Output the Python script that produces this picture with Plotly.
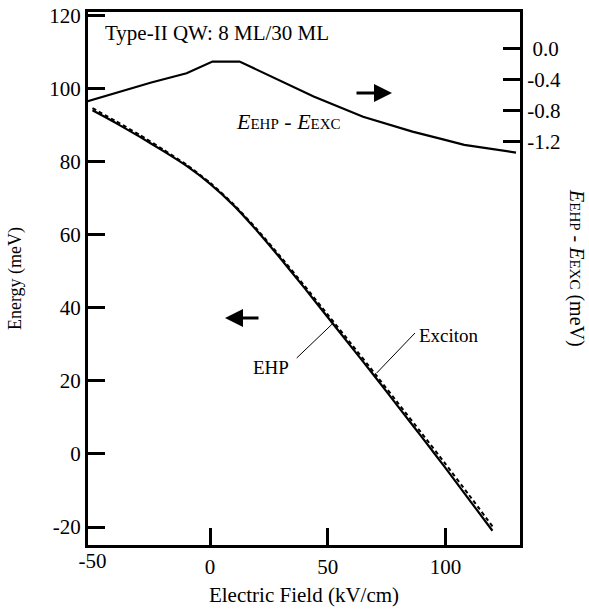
import plotly.graph_objects as go

# ---- data ----
field_diff = [-52, -25, -10, 1, 12.5, 38, 44, 65, 86, 99, 108, 130]
diff_mev = [-0.68, -0.44, -0.32, -0.17, -0.17, -0.53, -0.62, -0.88, -1.07, -1.17, -1.24, -1.34]

field = [-50, -40, -30, -20, -10, 0, 10, 20, 30, 40, 50, 60, 70, 80, 90, 100, 110, 120]
ehp = [94.0, 90.5, 86.8, 82.9, 78.8, 73.9, 68.0, 61.0, 53.4, 45.5, 37.4, 29.3, 21.2, 12.9, 4.6, -3.8, -12.4, -21.0]
exciton = [94.6, 91.0, 87.3, 83.3, 79.1, 74.2, 68.3, 61.4, 53.9, 46.1, 38.1, 30.1, 22.0, 13.8, 5.6, -2.7, -11.2, -19.8]

x_ticks = [0, 50, 100]
x_ticktext = ["0", "50", "100"]
x_edge_tick = [-50]
x_edge_ticktext = ["-50"]
y_ticks = [-20, 0, 20, 40, 60, 80, 100, 120]
y_ticktext = ["-20", "0", "20", "40", "60", "80", "100", "120"]
y2_ticks = [0.0, -0.4, -0.8, -1.2]
y2_ticktext = ["\u00a00.0", "-0.4", "-0.8", "-1.2"]

FONT = "Liberation Serif, Times New Roman, serif"
L, R, T, B = 88, 520, 12, 545
W, H = 589, 610
XR = [-51.9, 131.7]


def px(x):
    return (x - L) / (R - L)


def py(y):
    return (B - y) / (B - T)


fig = go.Figure()
fig.add_trace(go.Scatter(x=field, y=exciton, mode="lines",
                         line=dict(color="black", width=2, dash="4px,3px", shape="spline", smoothing=0.6),
                         showlegend=False))
fig.add_trace(go.Scatter(x=field, y=ehp, mode="lines",
                         line=dict(color="black", width=2.2, shape="spline", smoothing=0.6),
                         showlegend=False))
fig.add_trace(go.Scatter(x=field_diff, y=diff_mev, mode="lines", xaxis="x2", yaxis="y2",
                         line=dict(color="black", width=2.2),
                         showlegend=False))

tfont = dict(family=FONT, size=21, color="black")
axis_common = dict(showgrid=False, zeroline=False, showline=True, linecolor="black",
                   linewidth=3, ticks="inside", ticklen=17, tickwidth=3,
                   tickcolor="black", automargin=False, tickfont=tfont)

fig.update_layout(
    width=W, height=H, autosize=False,
    margin=dict(l=L, r=W - R, t=T, b=H - B),
    paper_bgcolor="white", plot_bgcolor="white",
    font=dict(family=FONT, color="black"),
    xaxis=dict(range=XR, tickvals=x_ticks, ticktext=x_ticktext, mirror=True,
               ticklabelstandoff=1,
               title=dict(text="Electric Field (kV/cm)", standoff=10,
                          font=dict(family=FONT, size=21, color="black")),
               **axis_common),
    xaxis2=dict(range=XR, overlaying="x", side="bottom", anchor="y", tickvals=x_edge_tick,
                ticktext=x_edge_ticktext, ticks="", showline=False, showgrid=False,
                zeroline=False, ticklabelstandoff=1, automargin=False, tickfont=tfont),
    yaxis=dict(range=[-24.9, 120.9], tickvals=y_ticks, ticktext=y_ticktext, mirror=True,
               title=dict(text="Energy (meV)", standoff=23,
                          font=dict(family=FONT, size=18, color="black")),
               **axis_common),
    yaxis2=dict(range=[-6.384, 0.467], tickvals=y2_ticks, ticktext=y2_ticktext,
                overlaying="y", side="right", anchor="x", **axis_common),
)

ann = [
    dict(x=px(103), y=py(33), text="Type-II QW: 8 ML/30 ML", xanchor="left", yanchor="middle",
         font=dict(size=21)),
    dict(x=px(288), y=py(121),
         text="<i>E</i><span style='font-size:15px'>EHP</span> - <i>E</i><span style='font-size:15px'>EXC</span>",
         xanchor="center", yanchor="middle", font=dict(size=22)),
    dict(x=px(271), y=py(367), text="EHP", xanchor="center", yanchor="middle", font=dict(size=19)),
    dict(x=px(417), y=py(335), text="Exciton", xanchor="left", yanchor="middle", font=dict(size=19)),
    dict(x=px(577), y=py(268),
         text="<i>E</i><span style='font-size:15px'>EHP</span> - <i>E</i><span style='font-size:15px'>EXC</span> (meV)",
         textangle=90, xanchor="center", yanchor="middle", font=dict(size=20)),
]
for a in ann:
    a.update(xref="paper", yref="paper", showarrow=False)
    a["font"].update(family=FONT, color="black")

# direction arrows
ann.append(dict(xref="paper", yref="paper", x=px(392), y=py(93), ax=-37, ay=0, text="",
                showarrow=True, arrowhead=2, arrowsize=1.2, arrowwidth=3, arrowcolor="black"))
ann.append(dict(xref="paper", yref="paper", x=px(225), y=py(318), ax=35, ay=0, text="",
                showarrow=True, arrowhead=2, arrowsize=1.2, arrowwidth=3, arrowcolor="black"))
fig.update_layout(annotations=ann)

# leader lines
fig.add_shape(type="line", xref="paper", yref="paper", x0=px(296.7), y0=py(358),
              x1=px(333.3), y1=py(323), line=dict(color="black", width=1))
fig.add_shape(type="line", xref="paper", yref="paper", x0=px(415), y0=py(333),
              x1=px(376.7), y1=py(373), line=dict(color="black", width=1))

fig.write_html("out.html")
